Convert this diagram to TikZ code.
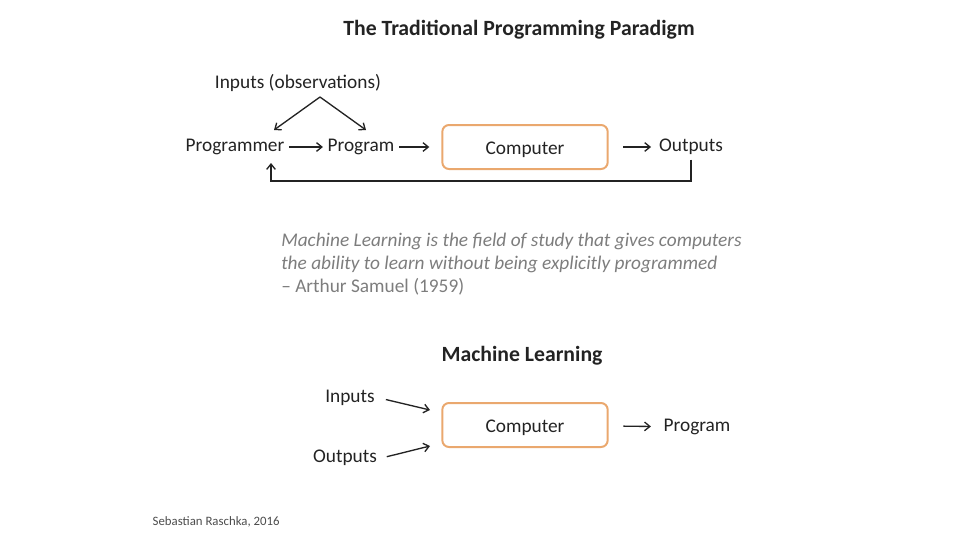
\documentclass[tikz,border=0pt]{standalone}
\usepackage{fontspec}
\setmainfont{Carlito}
\usepackage{xcolor}
\usepackage{tikz}
\usetikzlibrary{arrows.meta,calc}
\definecolor{boxorange}{RGB}{234,168,110}
\definecolor{quotegray}{RGB}{125,125,125}
\definecolor{inkgray}{RGB}{35,35,35}
\tikzset{
  every picture/.style = {
    x=0.75pt, y=-0.75pt,
    font=\fontsize{14.5}{17}\selectfont
  }
}
\tikzset{
  headline/.style={
    font=\fontsize{16.3}{19}\selectfont\bfseries,
    text=inkgray
  },
  word/.style={
    text=inkgray
  },
  compbox/.style={
    draw=boxorange,
    line width=1.5pt,
    rounded corners=5pt,
    minimum width=124pt,
    minimum height=33pt,
    text height=15pt,
    text depth=3.6pt,
    text=inkgray
  },
  quoteline/.style={
    text=quotegray,
    anchor=base west,
    inner sep=0pt
  },
  flow/.style={
    -{Straight Barb[length=4pt,width=6.5pt]},
    line width=1pt,
    draw=inkgray
  }
}
\begin{document}
\begin{tikzpicture}
    \useasboundingbox (0,0) rectangle (960,540);
    % traditional paradigm
    \node[headline] (title) at (519,30) {The Traditional Programming Paradigm};
    \node[word] (inp) at (298,83) {Inputs (observations)};
    \node[word] (pgmr) at (235,147) {Programmer};
    \node[word] (pgm) at (361,147) {Program};
    \node[compbox] (comp) at (525,147) {Computer};
    \node[word] (outs) at (691,147) {Outputs};
    \coordinate (apex) at (320,97);
    \coordinate (pgmrtop) at (274,130);
    \coordinate (pgmtop) at (366,130);
    \coordinate (fbtop) at (271,163);
    \draw[flow] (apex) -- (pgmrtop);
    \draw[flow] (apex) -- (pgmtop);
    \draw[flow] (pgmr) -- (pgm);
    \draw[flow, shorten >=9pt] (pgm) -- (comp);
    \draw[flow, shorten <=11pt, shorten >=2.5pt] (comp) -- (outs);
    \draw[flow] (outs.south) -- (outs.south |- 0,181) -| (fbtop);
    % quote
    \node[quoteline] (q1) at (281,246) {\itshape Machine Learning is the field of study that gives computers};
    \node[quoteline] (q2) at (281,269) {\itshape the ability to learn without being explicitly programmed};
    \node[quoteline] (q3) at (281,292) {– Arthur Samuel (1959)};
    % machine learning
    \node[headline] (mltitle) at (522,356) {Machine Learning};
    \node[word] (mlin) at (350,398) {Inputs};
    \node[word] (mlout) at (345,458) {Outputs};
    \node[compbox] (mlcomp) at (525,425) {Computer};
    \node[word] (mlpgm) at (697,427) {Program};
    \coordinate (intip) at (430,410);
    \coordinate (outtip) at (430,446);
    \draw[flow, shorten <=5pt] (mlin.east) -- (intip);
    \draw[flow, shorten <=4pt] (mlout.east) -- (outtip);
    \draw[flow, shorten <=11pt, shorten >=6pt] (mlcomp) -- (mlpgm);
    \node[anchor=west, font=\fontsize{9.6}{11}\selectfont, text=black!70] (credit) at (148,522) {Sebastian Raschka, 2016};
\end{tikzpicture}
\end{document}
